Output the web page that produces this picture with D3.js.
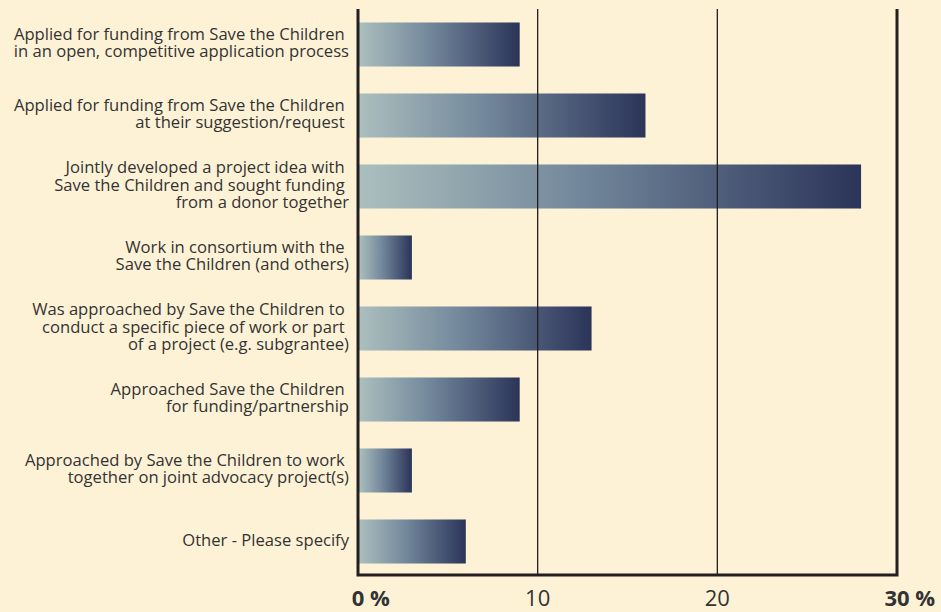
<!DOCTYPE html>
<html><head><meta charset="utf-8">
<script src="https://cdn.jsdelivr.net/npm/d3@7"></script>
<style>
html,body{margin:0;padding:0;background:#fdf2d6;}
svg{display:block;}
</style></head>
<body>
<svg id="chart" width="941" height="612"></svg>
<script>
const categories = [
  ["Applied for funding from Save the Children ", "in an open, competitive application process"],
  ["Applied for funding from Save the Children ", "at their suggestion/request "],
  ["Jointly developed a project idea with ", "Save the Children and sought funding ", "from a donor together"],
  ["Work in consortium with the ", "Save the Children (and others)"],
  ["Was approached by Save the Children to ", "conduct a specific piece of work or part ", "of a project (e.g. subgrantee)"],
  ["Approached Save the Children ", "for funding/partnership"],
  ["Approached by Save the Children to work ", "together on joint advocacy project(s)"],
  ["Other - Please specify"]
];
const values = [9, 16, 28, 3, 13, 9, 3, 6];
const tickValues = [0, 10, 20, 30];
const tickLabels = ["0", "10", "20", "30"];
const tickSuffix = [" %", "", "", " %"];
const boldTicks = [true, false, false, true];

(function () {
const svg = d3.select("#chart");
const W = 941, H = 612;
svg.append("rect").attr("width", W).attr("height", H).attr("fill", "#fdf2d6");

const x = d3.scaleLinear().domain([0, 30]).range([358, 897]);
const ids = categories.map((d, i) => i);
const y = d3.scaleBand().domain(ids).range([9, 577]).paddingInner(0.38).paddingOuter(0.19);
const yTop = 9, yBottom = 575;

const defs = svg.append("defs");
const grad = defs.append("linearGradient").attr("id", "barGrad")
  .attr("x1", "0%").attr("x2", "100%").attr("y1", "0%").attr("y2", "0%");
grad.append("stop").attr("offset", "0%").attr("stop-color", "#abbfbe");
grad.append("stop").attr("offset", "45%").attr("stop-color", "#71869a");
grad.append("stop").attr("offset", "100%").attr("stop-color", "#2b3459");

svg.append("g").selectAll("rect").data(values).join("rect")
  .attr("x", x(0) + 1)
  .attr("y", (d, i) => y(i))
  .attr("width", d => x(d) - x(0) - 1)
  .attr("height", y.bandwidth())
  .attr("fill", "url(#barGrad)");

svg.append("g").selectAll("line").data([10, 20]).join("line")
  .attr("x1", d => x(d)).attr("x2", d => x(d))
  .attr("y1", yTop).attr("y2", yBottom)
  .attr("stroke", "#231f20").attr("stroke-width", 1.3);

const frame = svg.append("g").attr("stroke", "#231f20").attr("stroke-width", 3).attr("fill", "none");
frame.append("path").attr("d", `M${x(0)},${yTop}V${yBottom}H${x(30)}V${yTop}`).attr("stroke-linejoin", "miter");

const lab = svg.append("g")
  .attr("font-family", "'Open Sans', 'Liberation Sans', sans-serif")
  .attr("font-size", 16.6).attr("fill", "#333")
  .attr("text-anchor", "end");
const lh = 17.7;
categories.forEach((lines, i) => {
  const cy = y(i) + y.bandwidth() / 2;
  const t = lab.append("text").attr("x", 349).attr("y", cy - (lines.length - 1) * lh / 2 + 4)
    .style("white-space", "pre");
  lines.forEach((ln, j) => {
    t.append("tspan").attr("x", 349).attr("dy", j === 0 ? 0 : lh).text(ln);
  });
});

const tl = svg.append("g")
  .attr("font-family", "'Open Sans', 'Liberation Sans', sans-serif")
  .attr("font-size", 22).attr("fill", "#333");
tickValues.forEach((v, i) => {
  const t = tl.append("text").attr("y", 606)
    .attr("font-weight", boldTicks[i] ? "bold" : "normal")
    .style("white-space", "pre");
  const n = t.append("tspan").text(tickLabels[i]);
  t.append("tspan").text(tickSuffix[i]);
  const nw = n.node().getComputedTextLength();
  n.attr("x", x(v) - nw / 2);
});
})();
</script>
</body></html>
